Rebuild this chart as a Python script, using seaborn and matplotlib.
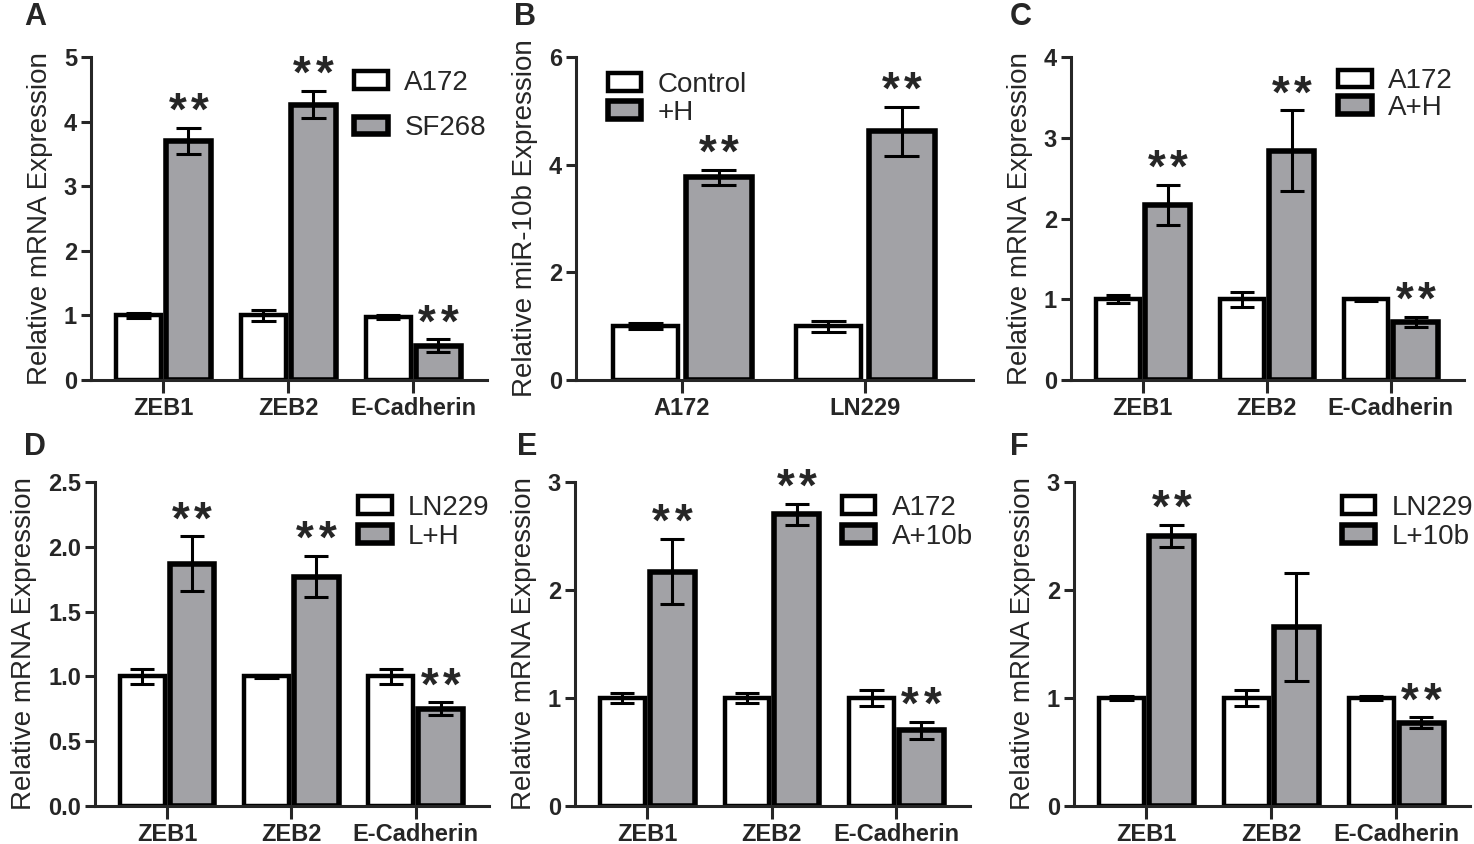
import numpy as np
import pandas as pd
import matplotlib
matplotlib.use('Agg')
import matplotlib.pyplot as plt
import seaborn as sns

sns.set_style('ticks')
plt.rcParams['font.family'] = ['Liberation Sans', 'DejaVu Sans']

# ---- data ----
genes = ['ZEB1', 'ZEB2', 'E-Cadherin']
cells = ['A172', 'LN229']

# A
a_groups = ['A172', 'SF268']
a_ctrl = [1.0, 1.0, 0.97]
a_ctrl_err = [0.04, 0.09, 0.03]
a_trt = [3.70, 4.26, 0.53]
a_trt_err = [0.20, 0.21, 0.10]
a_star = [True, True, True]

# B
b_groups = ['Control', '+H']
b_ctrl = [1.0, 1.0]
b_ctrl_err = [0.05, 0.10]
b_trt = [3.77, 4.62]
b_trt_err = [0.14, 0.45]
b_star = [True, True]

# C
c_groups = ['A172', 'A+H']
c_ctrl = [1.0, 1.0, 1.0]
c_ctrl_err = [0.05, 0.09, 0.02]
c_trt = [2.17, 2.84, 0.72]
c_trt_err = [0.25, 0.50, 0.06]
c_star = [True, True, True]

# D
d_groups = ['LN229', 'L+H']
d_ctrl = [1.0, 1.0, 1.0]
d_ctrl_err = [0.06, 0.01, 0.06]
d_trt = [1.87, 1.77, 0.75]
d_trt_err = [0.21, 0.16, 0.05]
d_star = [True, True, True]

# E
e_groups = ['A172', 'A+10b']
e_ctrl = [1.0, 1.0, 1.0]
e_ctrl_err = [0.05, 0.05, 0.07]
e_trt = [2.17, 2.70, 0.70]
e_trt_err = [0.30, 0.10, 0.08]
e_star = [True, True, True]

# F
f_groups = ['LN229', 'L+10b']
f_ctrl = [1.0, 1.0, 1.0]
f_ctrl_err = [0.02, 0.07, 0.02]
f_trt = [2.50, 1.66, 0.77]
f_trt_err = [0.10, 0.50, 0.05]
f_star = [True, False, True]

GRAY = '#a2a2a6'


def panel(ax, cats, groups, ctrl, ctrl_err, trt, trt_err, stars,
          ylim, yticks, ylabel, leg_xy, leg_space, tickfmt='{:g}'):
    df = pd.DataFrame({
        'cat': cats + cats,
        'val': ctrl + trt,
        'grp': [groups[0]] * len(cats) + [groups[1]] * len(cats),
    })
    sns.barplot(data=df, x='cat', y='val', hue='grp', order=cats,
                hue_order=groups, palette=['white', GRAY],
                edgecolor='black', linewidth=3.2, errorbar=None,
                gap=0.1, saturation=1, ax=ax)
    for p in ax.containers[1]:
        p.set_linewidth(4.0)
    errs = [ctrl_err, trt_err]
    for ci, cont in enumerate(ax.containers):
        for j, p in enumerate(cont):
            xc = p.get_x() + p.get_width() / 2
            top = p.get_height()
            e = errs[ci][j]
            half = p.get_width() * 0.27
            ax.vlines(xc, top - e, top + e, color='black', lw=2.2, zorder=5)
            ax.hlines([top - e, top + e], xc - half, xc + half,
                      color='black', lw=2.2, zorder=5)
            if ci == 1 and stars[j]:
                # two separate asterisks, slightly spaced like the original
                for dx in (-8, 8):
                    ax.annotate('*', (xc, top + e), xytext=(dx, -5),
                                textcoords='offset points', ha='center',
                                va='bottom', fontsize=33, fontweight='bold')
    n = len(cats)
    ax.set_xlim(-0.58, n - 1 + 0.59)
    ax.set_ylim(*ylim)
    ax.set_yticks(yticks)
    ax.set_yticklabels([tickfmt.format(t) for t in yticks])
    ax.set_xlabel('')
    ax.set_ylabel(ylabel, fontsize=20, labelpad=8)
    sns.despine(ax=ax)
    for s in ['left', 'bottom']:
        ax.spines[s].set_linewidth(2.2)
    ax.spines['left'].set_bounds(ylim[0], ylim[1])
    ax.tick_params(axis='x', length=9, width=2.2, labelsize=17, pad=3)
    ax.tick_params(axis='y', length=7, width=2.2, labelsize=17, pad=3)
    for t in ax.get_xticklabels() + ax.get_yticklabels():
        t.set_fontweight('bold')
    ax.legend(handles=list(ax.containers), labels=groups,
              loc='upper left', bbox_to_anchor=leg_xy, frameon=False,
              fontsize=20, handlelength=1.2, handleheight=0.6,
              handletextpad=0.6, labelspacing=leg_space,
              borderpad=0, borderaxespad=0)
    return ax


fig = plt.figure(figsize=(14.74, 8.44), dpi=100)

W, H = 1474, 844
def rect(l, r, top, bot):
    return [l / W, (H - bot) / H, (r - l) / W, (bot - top) / H]

axA = fig.add_axes(rect(91, 487, 57, 380))
axB = fig.add_axes(rect(576, 973, 57, 380))
axC = fig.add_axes(rect(1071, 1464, 57, 380))
axD = fig.add_axes(rect(95, 489, 482, 806))
axE = fig.add_axes(rect(575, 970, 482, 806))
axF = fig.add_axes(rect(1074, 1470, 482, 806))

panel(axA, genes, a_groups, a_ctrl, a_ctrl_err, a_trt, a_trt_err, a_star,
      (0, 5), [0, 1, 2, 3, 4, 5], 'Relative mRNA Expression', (0.665, 0.96), 0.7)
panel(axB, cells, b_groups, b_ctrl, b_ctrl_err, b_trt, b_trt_err, b_star,
      (0, 6), [0, 2, 4, 6], 'Relative miR-10b Expression', (0.08, 0.955), 0.08)
panel(axC, genes, c_groups, c_ctrl, c_ctrl_err, c_trt, c_trt_err, c_star,
      (0, 4), [0, 1, 2, 3, 4], 'Relative mRNA Expression', (0.68, 0.965), 0.02)
panel(axD, genes, d_groups, d_ctrl, d_ctrl_err, d_trt, d_trt_err, d_star,
      (0, 2.5), [0, 0.5, 1.0, 1.5, 2.0, 2.5], 'Relative mRNA Expression',
      (0.668, 0.96), 0.1, tickfmt='{:.1f}')
panel(axE, genes, e_groups, e_ctrl, e_ctrl_err, e_trt, e_trt_err, e_star,
      (0, 3), [0, 1, 2, 3], 'Relative mRNA Expression', (0.675, 0.96), 0.1)
panel(axF, genes, f_groups, f_ctrl, f_ctrl_err, f_trt, f_trt_err, f_star,
      (0, 3), [0, 1, 2, 3], 'Relative mRNA Expression', (0.677, 0.96), 0.1)

# panel letters
for letter, x, y in [('A', 24, 2), ('B', 514, 2), ('C', 1010, 2),
                     ('D', 24, 432), ('E', 517, 432), ('F', 1010, 432)]:
    fig.text(x / W, 1 - y / H, letter, ha='left', va='top',
             fontsize=22, fontweight='bold')

fig.savefig('out.png', dpi=100)
